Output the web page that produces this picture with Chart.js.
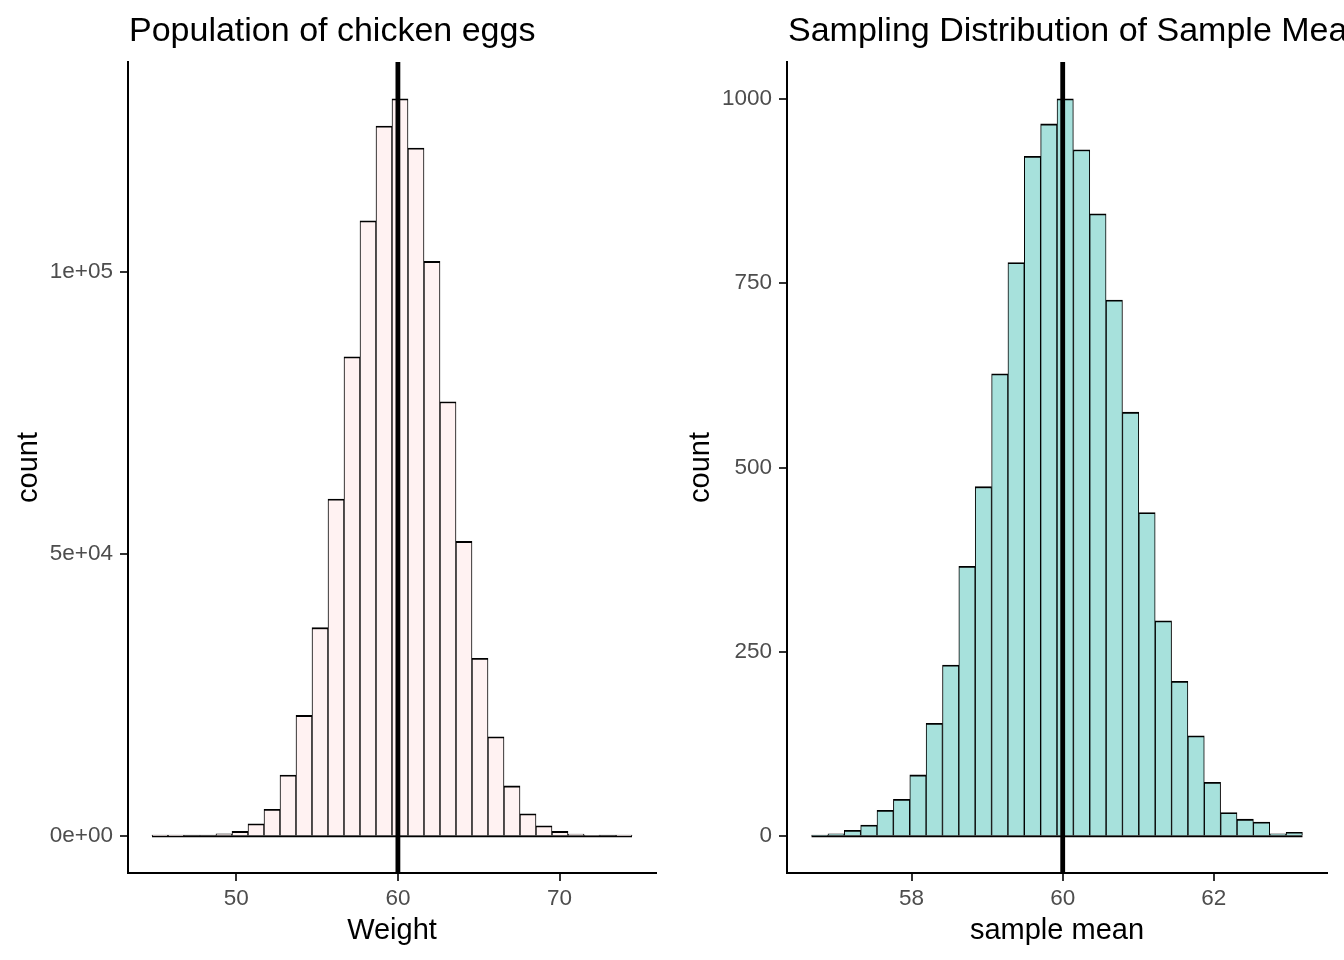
<!DOCTYPE html>
<html lang="en">
<head>
  <meta charset="UTF-8">
  <title>Chicken eggs</title>
  <script src="https://cdn.jsdelivr.net/npm/chart.js"></script>
  <style>
    body { margin: 0; background: #fff; width: 1344px; height: 960px; overflow: hidden; position: relative; }
    canvas { position: absolute; top: 0; }
    #popChart { left: 0; }
    #meanChart { left: 672px; }
  </style>
</head>
<body>
  <canvas id="popChart" width="672" height="960"></canvas>
  <canvas id="meanChart" width="672" height="960"></canvas>

  <script>
    // left panel: population of egg weights, 30 bins (bin centres)
    const weightBins = [45.28, 46.27, 47.26, 48.25, 49.24, 50.23, 51.22, 52.21, 53.20, 54.19,
                        55.18, 56.17, 57.16, 58.15, 59.14, 60.13, 61.12, 62.11, 63.10, 64.09,
                        65.08, 66.07, 67.06, 68.05, 69.04, 70.03, 71.02, 72.01, 73.00, 73.99];
    const weightCounts = [5, 20, 150, 200, 410, 830, 2180, 4770, 10830, 21380,
                          36930, 59700, 84900, 109000, 125800, 130600, 121900, 101800, 76950, 52200,
                          31500, 17600, 8890, 3940, 1820, 830, 350, 180, 150, 30];
    const weightTicks = [50, 60, 70];
    const popCountTicks = [0, 50000, 100000];
    const popCountLabels = ['0e+00', '5e+04', '1e+05'];

    // right panel: sampling distribution of the sample mean
    const meanBins = [56.784, 57.001, 57.217, 57.434, 57.650, 57.867, 58.084, 58.300, 58.517, 58.733,
                      58.950, 59.167, 59.383, 59.600, 59.816, 60.033, 60.250, 60.466, 60.683, 60.899,
                      61.116, 61.333, 61.549, 61.766, 61.982, 62.199, 62.416, 62.632, 62.849, 63.065];
    const meanCounts = [1, 3, 8, 15, 35, 50, 83, 153, 232, 366,
                        474, 627, 778, 922, 966, 1000, 931, 844, 727, 575,
                        439, 292, 210, 136, 73, 32, 23, 19, 3, 5];
    const meanTicks = [58, 60, 62];
    const meanCountTicks = [0, 250, 500, 750, 1000];

    const popMean = 60;

    const fontFam = '"Liberation Sans", Arial, sans-serif';
    const tickGrey = '#4D4D4D';

    function makeHist(id, cfg) {
      const bins = cfg.bins;
      const bw = bins[1] - bins[0];
      const lo = bins[0] - bw / 2;
      const hi = bins[bins.length - 1] + bw / 2;
      const xPad = (hi - lo) * 0.05;
      const top = Math.max(...cfg.counts);

      const titlePlugin = {
        id: 'panelTitle',
        afterDraw(chart) {
          const c = chart.ctx;
          c.save();
          c.font = '34px ' + fontFam;
          c.fillStyle = '#000';
          c.textBaseline = 'alphabetic';
          c.textAlign = 'left';
          c.fillText(cfg.title, chart.chartArea.left + 1, 41);
          c.restore();
        }
      };
      const vlinePlugin = {
        id: 'meanLine',
        afterDatasetsDraw(chart) {
          const c = chart.ctx;
          const x = chart.scales.x.getPixelForValue(popMean);
          const a = chart.chartArea;
          c.save();
          c.fillStyle = '#000';
          c.fillRect(x - 2.4, a.top, 4.8, a.bottom - a.top);
          c.restore();
        }
      };

      return new Chart(document.getElementById(id), {
        type: 'bar',
        data: {
          datasets: [
            {
              type: 'bar',
              data: bins.map((b, i) => ({ x: b, y: cfg.counts[i] })),
              backgroundColor: cfg.fill,
              borderColor: '#000',
              borderWidth: { top: 1.8, left: 1, right: 1, bottom: 0 },
              borderSkipped: false,
              barPercentage: 1,
              categoryPercentage: 1
            },
            {
              // bottom edges of the bars (empty bins show as a flat line)
              type: 'line',
              data: [{ x: lo, y: 0 }, { x: hi, y: 0 }],
              borderColor: '#000',
              borderWidth: 2,
              pointRadius: 0
            }
          ]
        },
        options: {
          responsive: false,
          animation: false,
          events: [],
          layout: { padding: { top: 62, right: cfg.rightPad, bottom: 0, left: 0 } },
          plugins: { legend: { display: false }, tooltip: { enabled: false } },
          scales: {
            x: {
              type: 'linear',
              offset: false,
              min: lo - xPad,
              max: hi + xPad,
              afterFit: s => { s.height = 87; },
              afterBuildTicks: s => { s.ticks = cfg.xTicks.map(v => ({ value: v })); },
              grid: { offset: false, drawOnChartArea: false, drawTicks: true, tickLength: 8, color: '#333', lineWidth: 2 },
              border: { display: true, color: '#000', width: 2 },
              ticks: { color: tickGrey, font: { family: fontFam, size: 22.5 }, padding: 4, maxRotation: 0 },
              title: { display: true, text: cfg.xTitle, color: '#000', font: { family: fontFam, size: 29 }, padding: { top: 0, bottom: 12 } }
            },
            y: {
              type: 'linear',
              min: -top * 0.05,
              max: top * 1.05,
              afterFit: s => { s.width = cfg.yWidth; },
              afterBuildTicks: s => { s.ticks = cfg.yTicks.map(v => ({ value: v })); },
              grid: { drawOnChartArea: false, drawTicks: true, tickLength: 8, color: '#333', lineWidth: 2 },
              border: { display: true, color: '#000', width: 2 },
              ticks: {
                color: tickGrey,
                font: { family: fontFam, size: 22.5 },
                padding: 7,
                callback: v => cfg.yLabels ? cfg.yLabels[cfg.yTicks.indexOf(v)] : String(v)
              },
              title: { display: true, text: 'count', color: '#000', font: { family: fontFam, size: 29 }, padding: { top: 12, bottom: 0 } }
            }
          }
        },
        plugins: [titlePlugin, vlinePlugin]
      });
    }

    makeHist('popChart', {
      title: 'Population of chicken eggs',
      bins: weightBins,
      counts: weightCounts,
      fill: '#FFF2F2',
      xTitle: 'Weight',
      xTicks: weightTicks,
      yTicks: popCountTicks,
      yLabels: popCountLabels,
      yWidth: 128,
      rightPad: 16
    });

    makeHist('meanChart', {
      title: 'Sampling Distribution of Sample Mean',
      bins: meanBins,
      counts: meanCounts,
      fill: '#A7E1DC',
      xTitle: 'sample mean',
      xTicks: meanTicks,
      yTicks: meanCountTicks,
      yLabels: null,
      yWidth: 115,
      rightPad: 17
    });
  </script>
</body>
</html>
